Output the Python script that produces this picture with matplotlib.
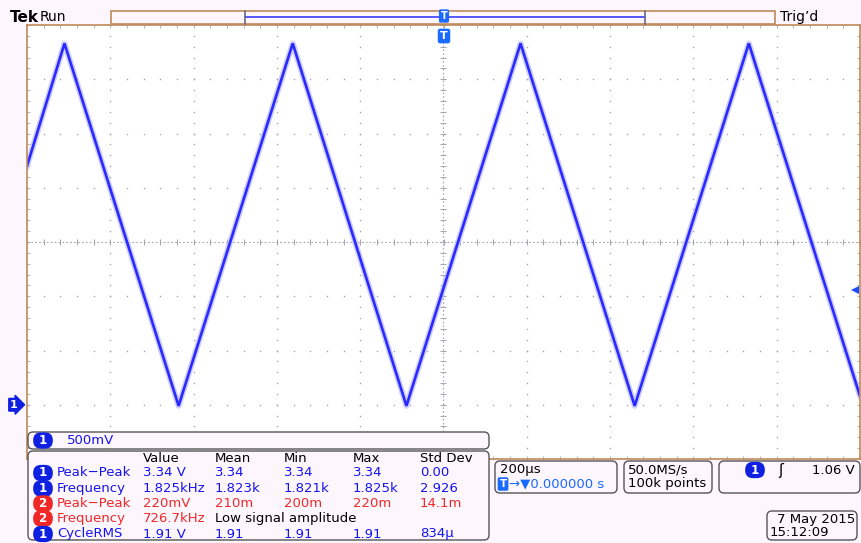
import numpy as np
import matplotlib.pyplot as plt
from matplotlib.patches import FancyBboxPatch, Rectangle

# waveform vertices (time in us, volts) - triangle wave, ch1
t_pts = [-1000, -910, -636, -362, -89, 185, 459, 733, 1000]
v_pts = [2.20, 3.33, -0.01, 3.33, -0.01, 3.33, -0.01, 3.33, 0.08]

# scope settings
sec_per_div = 200      # us
volt_per_div = 0.5     # V
ch1_offset = 0.0       # ground at marker
trig_level = 1.06

# measurement table
meas_header = ["Value", "Mean", "Min", "Max", "Std Dev"]
meas_chan = ["1", "1", "2", "2", "1"]
meas_name = ["Peak\u2212Peak", "Frequency", "Peak\u2212Peak", "Frequency", "CycleRMS"]
meas_vals = [
    ["3.34 V", "3.34", "3.34", "3.34", "0.00"],
    ["1.825kHz", "1.823k", "1.821k", "1.825k", "2.926"],
    ["220mV", "210m", "200m", "220m", "14.1m"],
    ["726.7kHz", "Low signal amplitude", "", "", ""],
    ["1.91 V", "1.91", "1.91", "1.91", "834\u03bc"],
]

W, H = 861, 543
BG = "#fdf6fd"
TAN = "#c08a5c"
BLUE = "#1414f0"
RED = "#f02828"
WAVE = "#2a2aff"
GRID = "#a4a4b0"

fig = plt.figure(figsize=(W / 100, H / 100), dpi=100, facecolor=BG)

# graticule: 10 x 8 divisions
x0, x1, y0, y1 = 27, 860, 25, 459
ax = fig.add_axes([x0 / W, 1 - y1 / H, (x1 - x0) / W, (y1 - y0) / H])
ax.set_facecolor("white")
ax.set_xlim(-5, 5)
ax.set_ylim(-4, 4)
for s in ax.spines.values():
    s.set_color(TAN)
    s.set_linewidth(1.2)
ax.set_xticks([])
ax.set_yticks([])
ax.set_xticks(np.arange(-5, 5.01, 0.2), minor=True)
ax.set_yticks(np.arange(-4, 4.01, 0.2), minor=True)
ax.tick_params(which="minor", direction="in", length=2.5, width=0.6, color=GRID,
               top=True, right=True, labelbottom=False, labelleft=False)

# dotted division lines
sub = np.arange(-5, 5.01, 0.2)
subv = np.arange(-4, 4.01, 0.2)
for gx in range(-4, 5):
    if gx == 0:
        continue
    ax.plot(np.full_like(subv, gx), subv, ls="none", marker="s", ms=1.0, color=GRID, mew=0)
for gy in range(-3, 4):
    if gy == 0:
        continue
    ax.plot(sub, np.full_like(sub, gy), ls="none", marker="s", ms=1.0, color=GRID, mew=0)
# center cross with finer dots and ticks
ax.axhline(0, color=GRID, lw=0.8, ls=(0, (1.5, 2)))
ax.axvline(0, color=GRID, lw=0.8, ls=(0, (1.5, 2)))
ax.plot(sub, np.zeros_like(sub), ls="none", marker="|", ms=5, color=GRID, mew=0.7)
ax.plot(np.zeros_like(subv), subv, ls="none", marker="_", ms=5, color=GRID, mew=0.7)

# waveform in division units (center line = 1.5 V)
center_v = 1.5
tx = np.array(t_pts) / sec_per_div
vy = (np.array(v_pts) - center_v) / volt_per_div
ax.plot(tx, vy, color="#b8b8ff", lw=4.2, alpha=0.7, solid_joinstyle="round")
ax.plot(tx, vy, color=WAVE, lw=1.9, solid_joinstyle="miter")

# overlay in pixel coordinates for the readouts
ov = fig.add_axes([0, 0, 1, 1], facecolor="none")
ov.set_xlim(0, W)
ov.set_ylim(H, 0)
ov.axis("off")

fs = 9.5
mono = "DejaVu Sans"


def box(x, y, w, h, fc=BG, ec="#555555", r=5):
    ov.add_patch(FancyBboxPatch((x, y), w, h, boxstyle=f"round,pad=0,rounding_size={r}",
                                fc=fc, ec=ec, lw=1.0))


def badge(x, y, label, color):
    ov.text(x, y, f" {label} ", color="white", fontsize=8.5, fontweight="bold", ha="center",
            va="center", family=mono,
            bbox=dict(boxstyle="round,pad=0.08,rounding_size=0.6", fc=color, ec=color))


# header
ov.text(10, 17, "Tek", fontsize=11, fontweight="bold", color="black", va="center")
ov.text(40, 17, "Run", fontsize=10, color="black", va="center")
ov.text(780, 17, "Trig\u2019d", fontsize=10, color="black", va="center")
ov.add_patch(Rectangle((111, 11), 664, 13, fc=BG, ec=TAN, lw=1.2))
ov.plot([245, 645], [16.5, 16.5], color="#4a4aff", lw=1.3)
ov.plot([245, 245], [11, 24], color="#6a6a8a", lw=1.2)
ov.plot([645, 645], [11, 24], color="#6a6a8a", lw=1.2)
ov.text(444, 16, "T", color="white", fontsize=7, fontweight="bold", ha="center", va="center",
        bbox=dict(boxstyle="round,pad=0.1", fc="#1a6aff", ec="#1a6aff"))
ov.text(444, 36, "T", color="white", fontsize=8, fontweight="bold", ha="center", va="center",
        bbox=dict(boxstyle="round,pad=0.15", fc="#1a6aff", ec="#1a6aff"))

# channel ground marker and trigger level arrow
gnd_y = y0 + (4 - (ch1_offset - center_v) / volt_per_div) * (y1 - y0) / 8
ov.text(14, gnd_y, "1", color="white", fontsize=8, fontweight="bold", ha="center",
        va="center", bbox=dict(boxstyle="rarrow,pad=0.12", fc="#1020e0", ec="#1020e0"))
trig_y = y0 + (4 - (trig_level - center_v) / volt_per_div) * (y1 - y0) / 8
ov.plot([855], [trig_y], marker="<", ms=6, color="#1a4aff", mew=0)

# channel scale box
box(28, 432, 461, 17)
badge(43, 440.5, "1", "#1020e0")
ov.text(67, 440.5, "500mV", color=BLUE, fontsize=fs, va="center", family=mono)

# measurement box
box(28, 451, 461, 89)
col_x = [143, 215, 284, 353, 420]
row_y = [473, 488.5, 503.5, 518.5, 534]
for cx, head in zip(col_x, meas_header):
    ov.text(cx, 458.5, head, color="black", fontsize=fs, va="center", family=mono)
for ry, ch, name, vals in zip(row_y, meas_chan, meas_name, meas_vals):
    col = BLUE if ch == "1" else RED
    badge(43, ry, ch, "#1020e0" if ch == "1" else "#f02828")
    ov.text(57, ry, name, color=col, fontsize=fs, va="center", family=mono)
    for ci, (cx, v) in enumerate(zip(col_x, vals)):
        c = "black" if v == "Low signal amplitude" else col
        ov.text(cx, ry, v, color=c, fontsize=fs, va="center", family=mono)

# timebase / acquisition / trigger boxes
box(495, 461, 122, 32)
ov.text(500, 470, "200\u00b5s", color="black", fontsize=fs, va="center", family=mono)
ov.text(503, 484, "T", color="white", fontsize=7.5, fontweight="bold", ha="center",
        va="center", bbox=dict(boxstyle="round,pad=0.1", fc="#1a6aff", ec="#1a6aff"))
ov.text(509, 484, "\u2192\u25bc0.000000 s", color="#1a6aff", fontsize=fs, va="center", family=mono)

box(624, 461, 88, 32)
ov.text(628, 470, "50.0MS/s", color="black", fontsize=fs, va="center", family=mono)
ov.text(628, 484, "100k points", color="black", fontsize=fs, va="center", family=mono)

box(719, 461, 141, 32)
badge(755, 470, "1", "#1020e0")
ov.text(781, 470, "\u0283", color="black", fontsize=fs + 1, va="center", ha="center")
ov.text(855, 470, f"{trig_level:.2f} V", color="black", fontsize=fs, va="center", ha="right",
        family=mono)

box(767, 511, 90, 29)
ov.text(855, 520, "7 May 2015", color="black", fontsize=fs, va="center", ha="right", family=mono)
ov.text(770, 532.5, "15:12:09", color="black", fontsize=fs, va="center", family=mono)

fig.savefig("out.png", dpi=100, facecolor=BG)
